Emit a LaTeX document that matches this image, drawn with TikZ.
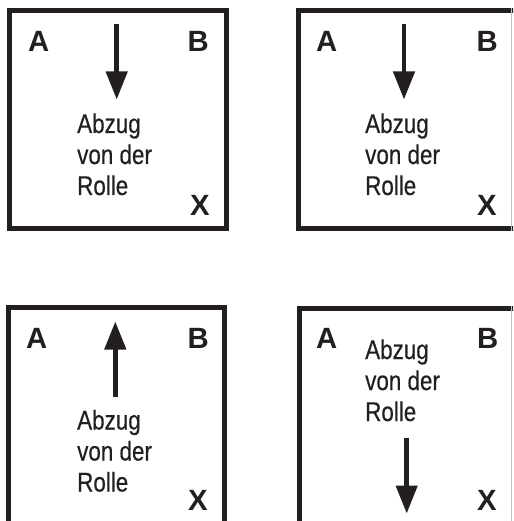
\documentclass[tikz,border=0pt]{standalone}
\usepackage{fontspec}
\setmainfont{Liberation Sans}
\newfontfamily\condfont[FakeStretch=0.83,FakeBold=0.4]{Liberation Sans}
\usetikzlibrary{arrows.meta}
\definecolor{ink}{HTML}{231F20}
\tikzset{
  x=1pt, y=-1pt,
  frame/.style={draw=ink, line width=5pt, line join=miter},
  edgeline/.style={draw=black!25, line width=0.8pt},
  corner/.style={anchor=base west, inner sep=0pt, text=ink,
    font=\fontsize{29.3}{30}\selectfont\bfseries},
  % anchored at the baseline of the last line
  caption/.style={anchor=base west, inner sep=0pt, text=ink, align=left,
    font=\condfont\fontsize{27}{31}\selectfont},
  pull/.style={draw=ink, line width=4.5pt,
    -{Triangle[width=21pt,length=28pt]}},
}
\begin{document}
\begin{tikzpicture}
\useasboundingbox (0,0) rectangle (513,521);
\clip (0,0) rectangle (513,521);
\fill[white] (0,0) rectangle (513,521);

% upper left panel
\draw[frame] (9.8,10.5) rectangle (226.8,228.5);
\node[corner] (a1) at (28,51.5) {A};
\node[corner] (b1) at (187.5,51.5) {B};
\node[corner] (x1) at (190,215) {X};
\node[caption] (t1) at (77,195) {Abzug\\von der\\Rolle};
\coordinate (s1) at (116.7,24);
\coordinate (e1) at (116.7,99.5);
\draw[pull] (s1) -- (e1);

% upper right panel, cut at the right edge
\draw[frame] (298.5,10.5) rectangle (516,228.5);
\draw[edgeline] (511.6,8) -- (511.6,231);
\node[corner] (a2) at (316,51.5) {A};
\node[corner] (b2) at (476.5,51.5) {B};
\node[corner] (x2) at (477,215) {X};
\node[caption] (t2) at (365,195) {Abzug\\von der\\Rolle};
\coordinate (s2) at (404,24);
\coordinate (e2) at (404,99.5);
\draw[pull] (s2) -- (e2);

% lower left panel, open at the bottom edge
\draw[frame] (8.3,530) -- (8.3,307) -- (224.8,307) -- (224.8,530);
\node[corner] (a3) at (26,348) {A};
\node[corner] (b3) at (187.5,348) {B};
\node[corner] (x3) at (188,510.7) {X};
\node[caption] (t3) at (77,491.5) {Abzug\\von der\\Rolle};
\coordinate (s3) at (115.3,396.7);
\coordinate (e3) at (115.3,321.5);
\draw[pull] (s3) -- (e3);

% lower right panel, open at the bottom and right edges
\draw[frame] (299,530) -- (299,308) -- (520,308);
\draw[edgeline] (511.6,306) -- (511.6,521);
\node[corner] (a4) at (316,348) {A};
\node[corner] (b4) at (477,348) {B};
\node[corner] (x4) at (477,510.7) {X};
\node[caption] (t4) at (365,421) {Abzug\\von der\\Rolle};
\coordinate (s4) at (406.7,438);
\coordinate (e4) at (406.7,513.5);
\draw[pull] (s4) -- (e4);
\end{tikzpicture}
\end{document}
